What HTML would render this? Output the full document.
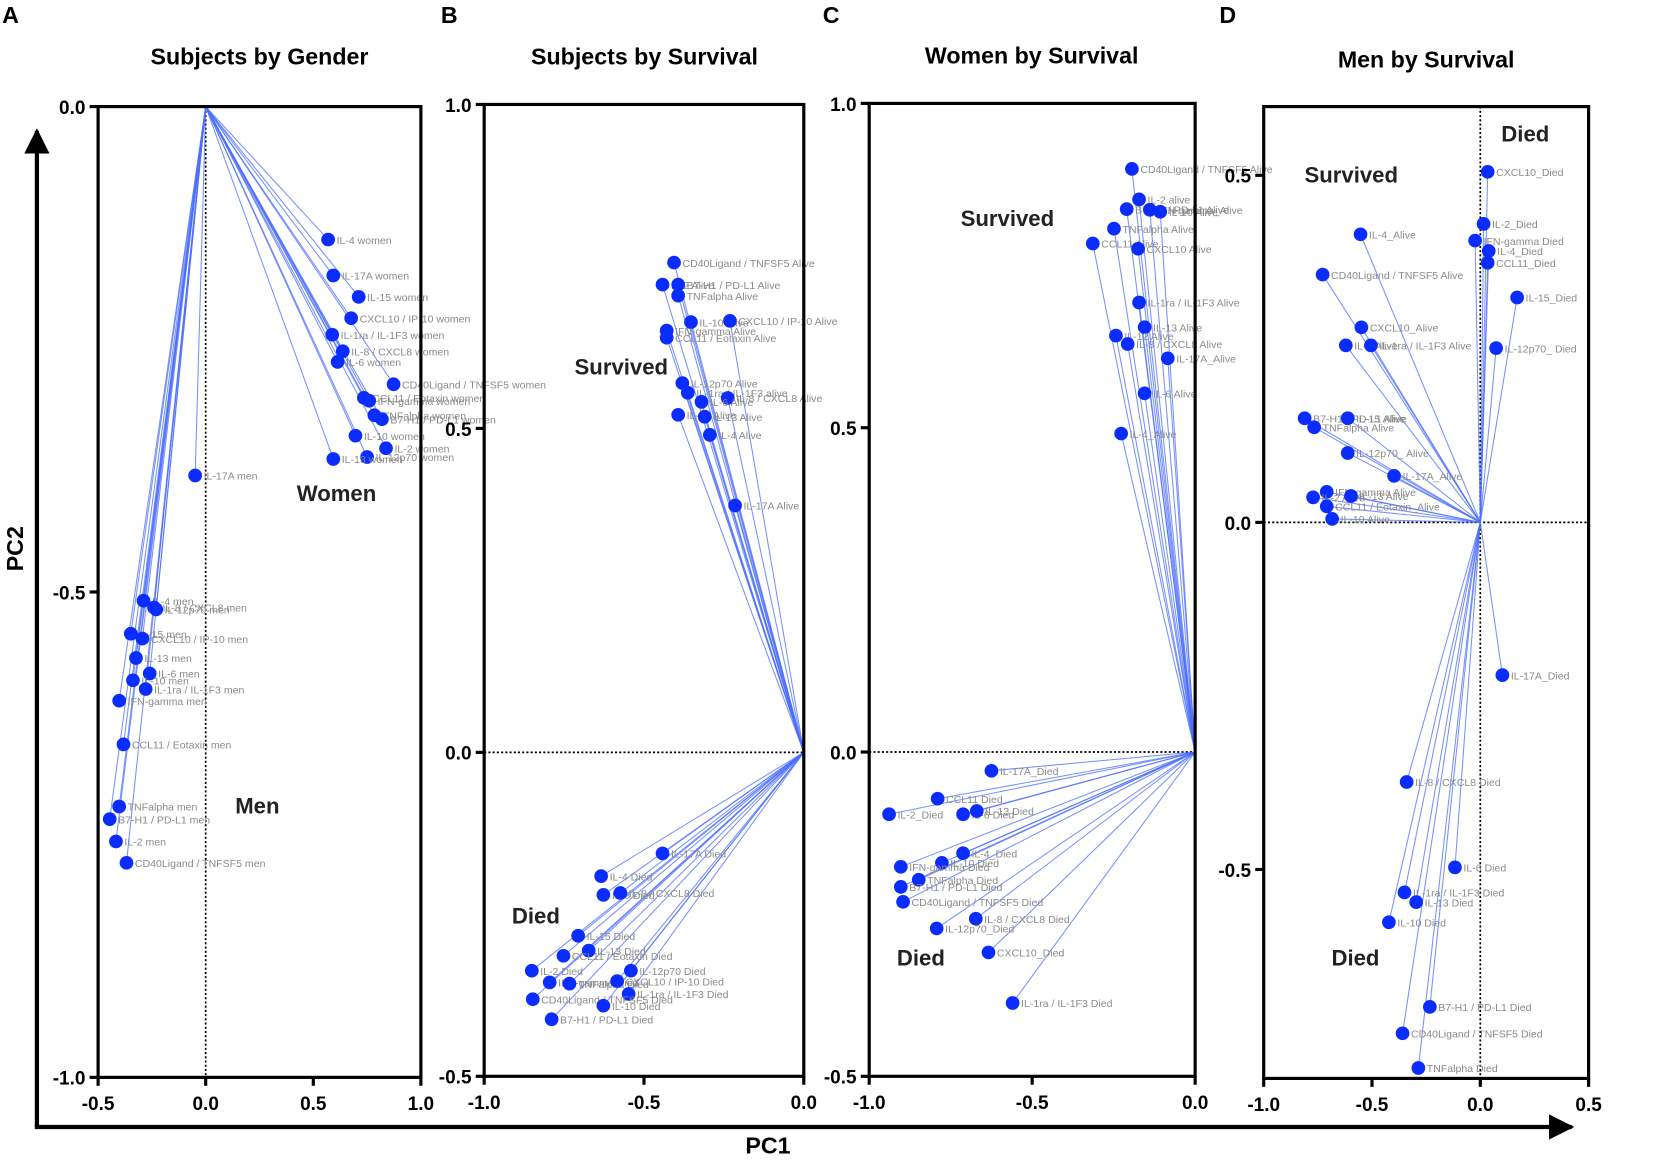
<!DOCTYPE html>
<html><head><meta charset="utf-8"><style>
html,body{margin:0;padding:0;background:#fff}
svg{display:block;font-family:"Liberation Sans",Arial,sans-serif}
.tk{font-weight:bold;font-size:18px}
.tt{font-weight:bold;font-size:22px}
.lb{font-size:10px;fill:#8a8a8a}
.gl{font-weight:bold;font-size:21px;fill:#222}
</style></head><body>
<svg id="fig" width="1654" height="1166" viewBox="0 0 1568 1105" preserveAspectRatio="none" xmlns="http://www.w3.org/2000/svg">
<defs><marker id="ah" viewBox="0 0 10 10" refX="9" refY="5" markerWidth="5" markerHeight="5" orient="auto"><path d="M0,0L10,5L0,10z" fill="#6f8cff"/></marker>
<marker id="big" viewBox="0 0 10 10" refX="9" refY="5" markerWidth="6" markerHeight="6" orient="auto"><path d="M0,0L10,5L0,10z" fill="#000"/></marker></defs>
<line x1="35" y1="1068" x2="35" y2="124" stroke="#000" stroke-width="4" marker-end="url(#big)"/>
<line x1="33" y1="1068" x2="1490" y2="1068" stroke="#000" stroke-width="4" marker-end="url(#big)"/>
<text class="tt" x="22" y="520" text-anchor="middle" transform="rotate(-90 22 520)">PC2</text>
<text class="tt" x="728" y="1093" text-anchor="middle">PC1</text>
</svg>
<script>
// Panel A: subjects by gender
const aLabels=["IL-4 women","IL-17A women","IL-15 women","CXCL10 / IP-10 women","IL-1ra / IL-1F3 women","IL-8 / CXCL8 women","IL-6 women","CD40Ligand / TNFSF5 women","CCL11 / Eotaxin women","IFN-gamma women","TNFalpha women","B7-H1 / PD-L1 women","IL-10 women","IL-2 women","IL-12p70 women","IL-13 women","IL-17A  men","IL-4  men","IL-8 / CXCL8  men","IL-12p70  men","IL-15  men","CXCL10 / IP-10  men","IL-13  men","IL-6  men","IL-10  men","IL-1ra / IL-1F3  men","IFN-gamma  men","CCL11 / Eotaxin  men","TNFalpha men","B7-H1 / PD-L1 men","IL-2  men","CD40Ligand / TNFSF5  men"];
const aX=[0.569,0.593,0.711,0.676,0.588,0.637,0.613,0.873,0.735,0.760,0.784,0.819,0.696,0.838,0.750,0.593,-0.049,-0.289,-0.240,-0.230,-0.348,-0.294,-0.324,-0.260,-0.338,-0.279,-0.402,-0.382,-0.402,-0.446,-0.417,-0.368];
const aY=[-0.137,-0.174,-0.196,-0.218,-0.235,-0.252,-0.263,-0.286,-0.300,-0.303,-0.318,-0.322,-0.339,-0.352,-0.361,-0.363,-0.380,-0.509,-0.516,-0.518,-0.543,-0.548,-0.568,-0.584,-0.591,-0.600,-0.612,-0.657,-0.721,-0.734,-0.757,-0.779];
// Panel B: subjects by survival
const bLabels=["CD40Ligand / TNFSF5 Alive","IL-2 Alive","B7-H1 / PD-L1 Alive","TNFalpha Alive","IL-10 Alive","CXCL10 / IP-10 Alive","IFN-gamma Alive","CCL11 / Eotaxin Alive","IL-12p70 Alive","IL-1ra / IL-1F3 alive","IL-8 / CXCL8 Alive","IL-6 Alive","IL-15 Alive","IL-13 Alive","IL-4 Alive","IL-17A Alive","IL-17A Died","IL-4 Died","IL-6 Died","IL-8 / CXCL8 Died","IL-15 Died","IL-13 Died","CCL11 / Eotaxin Died","IL-12p70 Died","IL-2 Died","IFN-gamma Died","TNFalpha Died","CXCL10 / IP-10 Died","IL-1ra / IL-1F3 Died","CD40Ligand / TNFSF5 Died","IL-10 Died","B7-H1 / PD-L1 Died"];
const bX=[-0.406,-0.442,-0.393,-0.393,-0.353,-0.231,-0.429,-0.429,-0.380,-0.363,-0.238,-0.320,-0.393,-0.310,-0.294,-0.215,-0.442,-0.634,-0.627,-0.574,-0.706,-0.673,-0.752,-0.541,-0.851,-0.795,-0.733,-0.584,-0.548,-0.848,-0.627,-0.789];
const bY=[0.756,0.722,0.722,0.705,0.664,0.666,0.651,0.640,0.570,0.555,0.547,0.541,0.521,0.518,0.490,0.381,-0.156,-0.191,-0.220,-0.217,-0.283,-0.306,-0.314,-0.337,-0.337,-0.355,-0.357,-0.353,-0.373,-0.381,-0.391,-0.412];
// Panel C: women by survival
const cLabels=["CD40Ligand / TNFSF5 Alive","IL-2  alive","B7-H1 / PD-L1 Alive","IFN-gamma_Alive","IL-10 Alive","TNFalpha Alive","CCL11 Alive","CXCL10 Alive","IL-1ra / IL-1F3 Alive","IL-13 Alive","IL-12 Alive","IL-8 / CXCL8 Alive","IL-17A_Alive","IL-6 Alive","IL-4_Alive","IL-17A_Died","CCL11 Died","IL-2_Died","IL-6 Died","IL-13 Died","IL-4_Died","IL-10 Died","IFN-gamma Died","TNFalpha Died","B7-H1 / PD-L1 Died","CD40Ligand / TNFSF5 Died","IL-8 / CXCL8 Died","IL-12p70_Died","CXCL10_Died","IL-1ra / IL-1F3  Died"];
const cX=[-0.194,-0.172,-0.210,-0.139,-0.107,-0.249,-0.314,-0.175,-0.172,-0.155,-0.243,-0.207,-0.084,-0.155,-0.227,-0.625,-0.790,-0.939,-0.712,-0.670,-0.712,-0.777,-0.903,-0.848,-0.903,-0.896,-0.673,-0.793,-0.634,-0.560];
const cY=[0.899,0.852,0.837,0.836,0.833,0.807,0.784,0.776,0.693,0.655,0.642,0.629,0.607,0.553,0.491,-0.029,-0.072,-0.096,-0.096,-0.091,-0.156,-0.171,-0.177,-0.197,-0.208,-0.231,-0.257,-0.272,-0.309,-0.387];
// Panel D: men by survival
const dLabels=["CXCL10_Died","IL-2_Died","IFN-gamma Died","IL-4_Died","CCL11_Died","IL-15_Died","IL-12p70_ Died","IL-17A_Died","IL-8 / CXCL8 Died","IL-6 Died","IL-1ra / IL-1F3 Died","IL-13 Died","IL-10 Died","B7-H1 / PD-L1 Died","CD40Ligand / TNFSF5 Died","TNFalpha Died","IL-4_Alive","CD40Ligand / TNFSF5 Alive","CXCL10_Alive","IL-6 Alive","IL-1ra / IL-1F3 Alive","B7-H1 / PD-L1 Alive","IL-15 Alive","TNFalpha Alive","IL-12p70_ Alive","IL-17A_Alive","IFN-gamma Alive","IL-2 Alive","IL-13 Alive","CCL11 / Eotaxin_Alive","IL-10 Alive"];
const dX=[0.034,0.015,-0.024,0.039,0.034,0.170,0.073,0.102,-0.340,-0.117,-0.350,-0.296,-0.422,-0.233,-0.359,-0.286,-0.553,-0.728,-0.549,-0.621,-0.505,-0.811,-0.612,-0.767,-0.612,-0.398,-0.709,-0.772,-0.597,-0.709,-0.684];
const dY=[0.505,0.430,0.406,0.391,0.374,0.324,0.251,-0.220,-0.374,-0.497,-0.533,-0.547,-0.576,-0.698,-0.736,-0.786,0.415,0.357,0.281,0.255,0.255,0.150,0.150,0.137,0.100,0.067,0.044,0.036,0.038,0.023,0.005];
const xtA=[-0.5,0,0.5,1.0], ytA=[0,-0.5,-1.0];
const xtB=[-1.0,-0.5,0], ytB=[1.0,0.5,0,-0.5];
const xtD=[-1.0,-0.5,0,0.5], ytD=[0.5,0,-0.5];

const NS="http://www.w3.org/2000/svg", svg=document.getElementById('fig');
function el(t,a,p){const e=document.createElementNS(NS,t);for(const k in a)e.setAttribute(k,a[k]);(p||svg).appendChild(e);return e;}
const panels=[
 {id:'a',letter:'A',title:'Subjects by Gender',tx:246,ty:61,lx:2,L:93,R:399,T:101,B:1021,x0:-0.5,x1:1.0,y0:-1.0,y1:0,xt:xtA,yt:ytA,vdot:true,hdot:false,lab:aLabels,X:aX,Y:aY,groups:[['Women',319,475],['Men',244,771]]},
 {id:'b',letter:'B',title:'Subjects by Survival',tx:611,ty:61,lx:418,L:459,R:762,T:99,B:1020,x0:-1.0,x1:0,y0:-0.5,y1:1.0,xt:xtB,yt:ytB,vdot:false,hdot:true,lab:bLabels,X:bX,Y:bY,groups:[['Survived',589,355],['Died',508,875]]},
 {id:'c',letter:'C',title:'Women by Survival',tx:978,ty:60,lx:780,L:824,R:1133,T:98,B:1020,x0:-1.0,x1:0,y0:-0.5,y1:1.0,xt:xtB,yt:ytB,vdot:false,hdot:true,lab:cLabels,X:cX,Y:cY,groups:[['Survived',955,214],['Died',873,915]]},
 {id:'d',letter:'D',title:'Men by Survival',tx:1352,ty:64,lx:1156,L:1198,R:1506,T:101,B:1022,x0:-1.0,x1:0.5,y0:-0.801,y1:0.599,xt:xtD,yt:ytD,vdot:true,hdot:true,lab:dLabels,X:dX,Y:dY,groups:[['Survived',1281,173],['Died',1446,134],['Died',1285,915]]}
];
panels.forEach(p=>{
 const g=el('g',{});
 
 
 const sx=v=>p.L+(v-p.x0)/(p.x1-p.x0)*(p.R-p.L);
 const sy=v=>p.B-(v-p.y0)/(p.y1-p.y0)*(p.B-p.T);
 const lt=el('text',{x:p.lx,y:22,class:'tt'},g);lt.textContent=p.letter;
 
 
 const tt=el('text',{x:p.tx,y:p.ty,class:'tt','text-anchor':'middle'},g);tt.textContent=p.title;
 
 
 if(p.vdot){const l=el('line',{x1:sx(0),x2:sx(0),y1:p.T,y2:p.B,stroke:'#000','stroke-width':1.6,'stroke-dasharray':'2,2'},g);
  
  }
 if(p.hdot){const l=el('line',{x1:p.L,x2:p.R,y1:sy(0),y2:sy(0),stroke:'#000','stroke-width':1.6,'stroke-dasharray':'2,2'},g);
  
  }
 const ox=sx(0),oy=sy(0);
 p.X.forEach((x,i)=>{
  const l=el('line',{x1:ox,y1:oy,x2:sx(x),y2:sy(p.Y[i]),stroke:'#4a6cff','stroke-opacity':0.75,'stroke-width':1,'marker-end':'url(#ah)'},g);
  
  
 });
 p.X.forEach((x,i)=>{
  const c=el('circle',{cx:sx(x),cy:sy(p.Y[i]),r:6.5,fill:'#0a2cff'},g);
  
  
  const t=el('text',{x:sx(x)+8,y:sy(p.Y[i])+4,class:'lb'},g);t.textContent=p.lab[i];
  
  
 });
 const box=el('rect',{x:p.L,y:p.T,width:p.R-p.L,height:p.B-p.T,fill:'none',stroke:'#000','stroke-width':3},g);
 
 
 p.xt.forEach(v=>{
  el('line',{x1:sx(v),x2:sx(v),y1:p.B,y2:p.B+8,stroke:'#000','stroke-width':3},g);
  const t=el('text',{x:sx(v),y:p.B+31,class:'tk','text-anchor':'middle'},g);t.textContent=v.toFixed(1);
  
  
 });
 p.yt.forEach(v=>{
  el('line',{x1:p.L-8,x2:p.L,y1:sy(v),y2:sy(v),stroke:'#000','stroke-width':3},g);
  const t=el('text',{x:p.L-12,y:sy(v)+7,class:'tk','text-anchor':'end'},g);t.textContent=v.toFixed(1);
  
  
 });
 p.groups.forEach(gr=>{
  const t=el('text',{x:gr[1],y:gr[2],class:'gl','text-anchor':'middle'},g);t.textContent=gr[0];
  
  
 });
});
</script>
</body></html>
